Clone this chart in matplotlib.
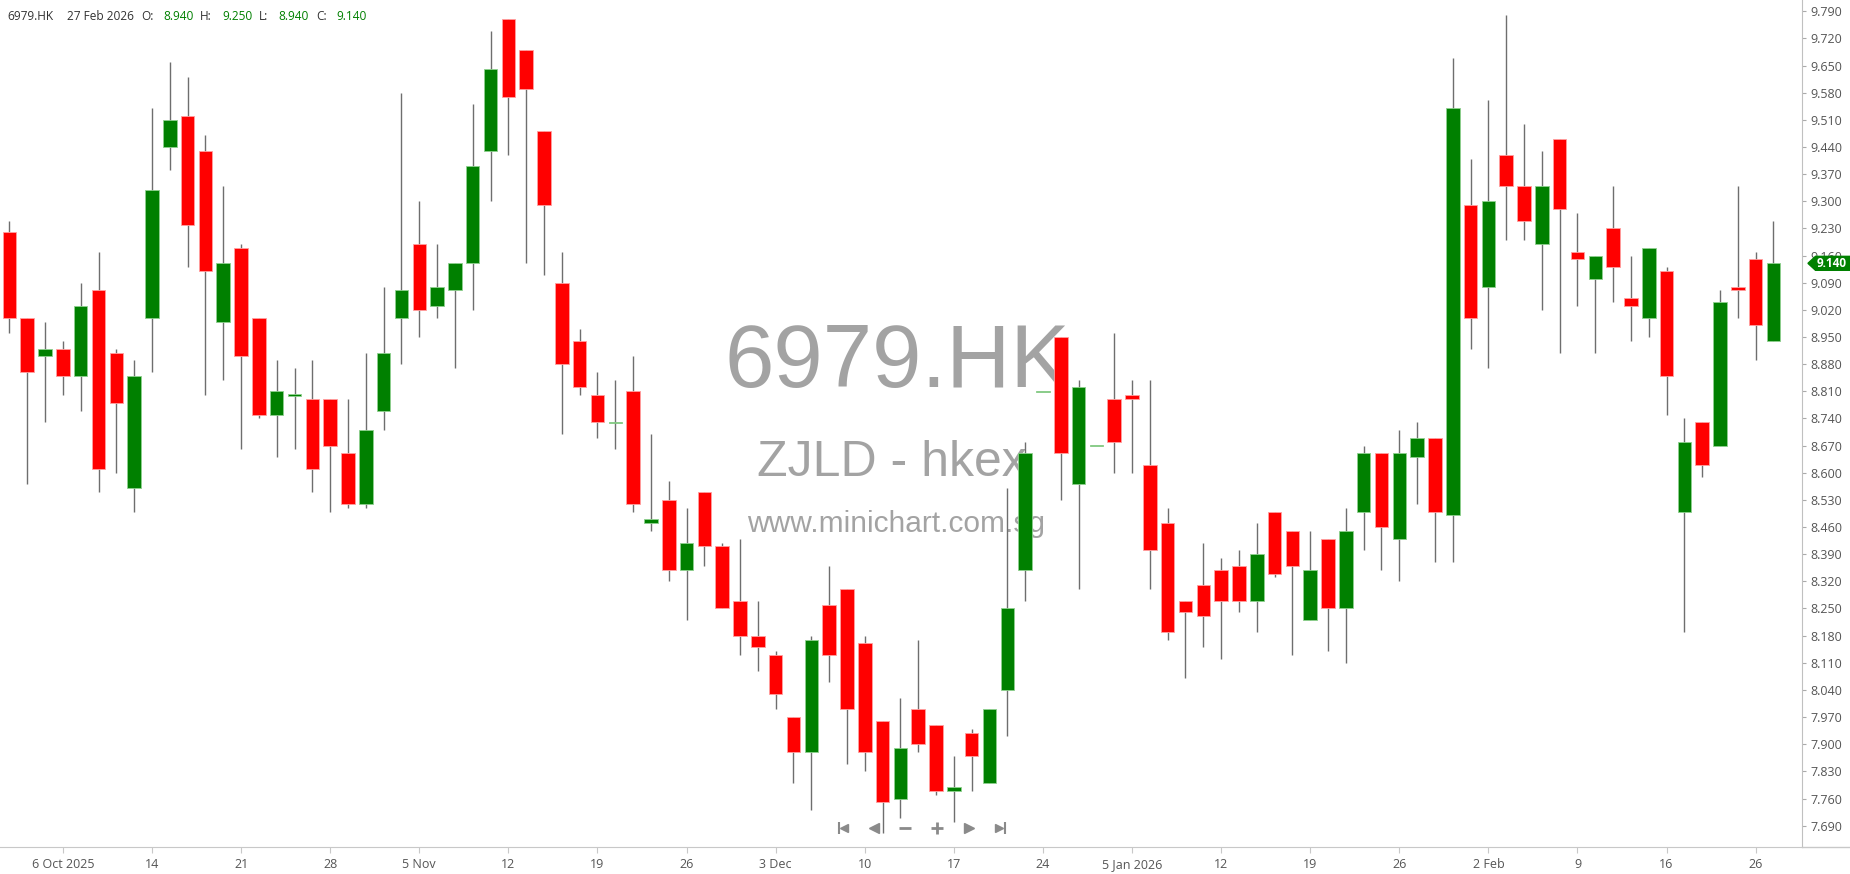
import numpy as np
import matplotlib.pyplot as plt
import matplotlib.transforms as mtransforms
from matplotlib.patches import Polygon
from matplotlib.lines import Line2D
from datetime import datetime

# trading days (HKEX), 30 Sep 2025 - 27 Feb 2026
dates = [
    "2025-09-30",
    "2025-10-02", "2025-10-03", "2025-10-06", "2025-10-08", "2025-10-09", "2025-10-10",
    "2025-10-13", "2025-10-14", "2025-10-15", "2025-10-16", "2025-10-17",
    "2025-10-20", "2025-10-21", "2025-10-22", "2025-10-23", "2025-10-24",
    "2025-10-27", "2025-10-28", "2025-10-30", "2025-10-31",
    "2025-11-03", "2025-11-04", "2025-11-05", "2025-11-06", "2025-11-07",
    "2025-11-10", "2025-11-11", "2025-11-12", "2025-11-13", "2025-11-14",
    "2025-11-17", "2025-11-18", "2025-11-19", "2025-11-20", "2025-11-21",
    "2025-11-24", "2025-11-25", "2025-11-26", "2025-11-27", "2025-11-28",
    "2025-12-01", "2025-12-02", "2025-12-03", "2025-12-04", "2025-12-05",
    "2025-12-08", "2025-12-09", "2025-12-10", "2025-12-11", "2025-12-12",
    "2025-12-15", "2025-12-16", "2025-12-17", "2025-12-18", "2025-12-19",
    "2025-12-22", "2025-12-23", "2025-12-24", "2025-12-29", "2025-12-30", "2025-12-31",
    "2026-01-02", "2026-01-05", "2026-01-06", "2026-01-07", "2026-01-08", "2026-01-09",
    "2026-01-12", "2026-01-13", "2026-01-14", "2026-01-15", "2026-01-16",
    "2026-01-19", "2026-01-20", "2026-01-21", "2026-01-22", "2026-01-23",
    "2026-01-26", "2026-01-27", "2026-01-28", "2026-01-29", "2026-01-30",
    "2026-02-02", "2026-02-03", "2026-02-04", "2026-02-05", "2026-02-06",
    "2026-02-09", "2026-02-10", "2026-02-11", "2026-02-12", "2026-02-13",
    "2026-02-16", "2026-02-20", "2026-02-23", "2026-02-24", "2026-02-25",
    "2026-02-26", "2026-02-27",
]

opens = [9.22, 9.00, 8.90, 8.92, 8.85, 9.07, 8.91, 8.56, 9.00, 9.44,
         9.52, 9.43, 8.99, 9.18, 9.00, 8.75, 8.80, 8.79, 8.79, 8.65,
         8.52, 8.76, 9.00, 9.19, 9.03, 9.07, 9.14, 9.43, 9.77, 9.69,
         9.48, 9.09, 8.94, 8.80, 8.73, 8.81, 8.47, 8.53, 8.35, 8.55,
         8.41, 8.27, 8.18, 8.13, 7.97, 7.88, 8.26, 8.30, 8.16, 7.96,
         7.76, 7.99, 7.95, 7.78, 7.93, 7.80, 8.04, 8.35, 8.81, 8.95,
         8.57, 8.67, 8.79, 8.80, 8.62, 8.47, 8.27, 8.31, 8.35, 8.36,
         8.27, 8.50, 8.45, 8.22, 8.43, 8.25, 8.50, 8.65, 8.43, 8.64,
         8.69, 8.49, 9.29, 9.08, 9.42, 9.34, 9.19, 9.46, 9.17, 9.10,
         9.23, 9.05, 9.00, 9.12, 8.50, 8.73, 8.67, 9.08, 9.15, 8.94]
highs = [9.25, 9.00, 8.99, 8.94, 9.09, 9.17, 8.92, 8.89, 9.54, 9.66,
         9.62, 9.47, 9.34, 9.19, 9.00, 8.89, 8.87, 8.89, 8.79, 8.79,
         8.91, 9.08, 9.58, 9.30, 9.19, 9.14, 9.55, 9.74, 9.77, 9.69,
         9.48, 9.17, 8.97, 8.86, 8.84, 8.90, 8.70, 8.58, 8.51, 8.55,
         8.42, 8.43, 8.27, 8.14, 7.97, 8.18, 8.36, 8.30, 8.18, 7.96,
         8.02, 8.17, 7.95, 7.87, 7.94, 7.99, 8.56, 8.68, 8.81, 8.95,
         8.84, 8.67, 8.96, 8.84, 8.84, 8.51, 8.27, 8.42, 8.38, 8.40,
         8.47, 8.50, 8.45, 8.45, 8.43, 8.51, 8.67, 8.65, 8.71, 8.73,
         8.69, 9.67, 9.41, 9.56, 9.78, 9.50, 9.43, 9.46, 9.27, 9.16,
         9.34, 9.16, 9.18, 9.13, 8.74, 8.73, 9.07, 9.34, 9.17, 9.25]
lows = [8.96, 8.57, 8.73, 8.80, 8.76, 8.55, 8.60, 8.50, 8.86, 9.38,
        9.13, 8.80, 8.84, 8.66, 8.74, 8.64, 8.66, 8.55, 8.50, 8.51,
        8.51, 8.71, 8.88, 8.95, 9.00, 8.87, 9.02, 9.30, 9.42, 9.14,
        9.11, 8.70, 8.80, 8.69, 8.66, 8.50, 8.45, 8.32, 8.22, 8.36,
        8.25, 8.13, 8.09, 7.99, 7.80, 7.73, 8.06, 7.85, 7.83, 7.67,
        7.71, 7.88, 7.77, 7.70, 7.78, 7.80, 7.92, 8.27, 8.81, 8.53,
        8.30, 8.67, 8.60, 8.60, 8.30, 8.17, 8.07, 8.15, 8.12, 8.24,
        8.19, 8.33, 8.13, 8.22, 8.14, 8.11, 8.40, 8.35, 8.32, 8.52,
        8.37, 8.37, 8.92, 8.87, 9.20, 9.20, 9.02, 8.91, 9.03, 8.91,
        9.04, 8.94, 8.95, 8.75, 8.19, 8.59, 8.67, 9.00, 8.89, 8.94]
closes = [9.00, 8.86, 8.92, 8.85, 9.03, 8.61, 8.78, 8.85, 9.33, 9.51,
          9.24, 9.12, 9.14, 8.90, 8.75, 8.81, 8.80, 8.61, 8.67, 8.52,
          8.71, 8.91, 9.07, 9.02, 9.08, 9.14, 9.39, 9.64, 9.57, 9.59,
          9.29, 8.88, 8.82, 8.73, 8.73, 8.52, 8.48, 8.35, 8.42, 8.41,
          8.25, 8.18, 8.15, 8.03, 7.88, 8.17, 8.13, 7.99, 7.88, 7.75,
          7.89, 7.90, 7.78, 7.79, 7.87, 7.99, 8.25, 8.65, 8.81, 8.65,
          8.82, 8.67, 8.68, 8.79, 8.40, 8.19, 8.24, 8.23, 8.27, 8.27,
          8.39, 8.34, 8.36, 8.35, 8.25, 8.45, 8.65, 8.46, 8.65, 8.69,
          8.50, 9.54, 9.00, 9.30, 9.34, 9.25, 9.34, 9.28, 9.15, 9.16,
          9.13, 9.03, 9.18, 8.85, 8.68, 8.62, 9.04, 9.07, 8.98, 9.14]

tick_dates = ["2025-10-06", "2025-10-14", "2025-10-21", "2025-10-28", "2025-11-05",
              "2025-11-12", "2025-11-19", "2025-11-26", "2025-12-03", "2025-12-10",
              "2025-12-17", "2025-12-24", "2026-01-05", "2026-01-12", "2026-01-19",
              "2026-01-26", "2026-02-02", "2026-02-09", "2026-02-16", "2026-02-26"]
tick_labels = ["6 Oct 2025", "14", "21", "28", "5 Nov", "12", "19", "26", "3 Dec", "10",
               "17", "24", "5 Jan 2026", "12", "19", "26", "2 Feb", "9", "16", "26"]

y_ticks = [7.69, 7.76, 7.83, 7.90, 7.97, 8.04, 8.11, 8.18, 8.25, 8.32, 8.39,
           8.46, 8.53, 8.60, 8.67, 8.74, 8.81, 8.88, 8.95, 9.02, 9.09, 9.16,
           9.23, 9.30, 9.37, 9.44, 9.51, 9.58, 9.65, 9.72, 9.79]

ticker = "6979.HK"
name_line = "ZJLD - hkex"
site = "www.minichart.com.sg"

GREEN = "#008000"
RED = "#ff0000"
UI_FONT = ["Open Sans", "DejaVu Sans"]

o = np.array(opens)
h = np.array(highs)
l = np.array(lows)
c = np.array(closes)
x = np.arange(len(dates))
up = c >= o

W, H = 1850, 874
fig = plt.figure(figsize=(W / 100, H / 100), dpi=100)
ax = fig.add_axes([0, 1 - 847 / H, 1802 / W, 847 / H])

# wicks then bodies
ax.vlines(x, l, h, color="#6e6e6e", linewidth=1.0, zorder=2)
body_lo = np.minimum(o, c)
body_h = np.abs(c - o)
body_h = np.where(body_h < 0.004, 0.004, body_h)
body_lo = np.where(np.abs(c - o) < 0.004, body_lo - 0.002, body_lo)
ax.bar(x, body_h, bottom=body_lo, width=0.76,
       color=np.where(up, GREEN, RED),
       edgecolor=np.where(up, "#8fd08f", "#ffa0a0"),
       linewidth=0.6, zorder=3)

ax.set_xlim(-0.53, 100.6)
ax.set_ylim(7.635, 9.819)

# watermark
ax.text(0.498, 0.57, ticker, transform=ax.transAxes, ha="center", va="center",
        fontsize=64, color="#a3a3a3", family="Liberation Sans", zorder=1)
ax.text(0.495, 0.453, name_line, transform=ax.transAxes, ha="center", va="center",
        fontsize=36, color="#a3a3a3", family="Liberation Sans", zorder=1)
ax.text(0.497, 0.381, site, transform=ax.transAxes, ha="center", va="center",
        fontsize=21.5, color="#a3a3a3", family="Liberation Sans", zorder=1)

# axes styling
ax.yaxis.tick_right()
ax.set_yticks(y_ticks)
ax.set_yticklabels([f"{v:.3f}" for v in y_ticks])
ax.tick_params(axis="y", length=3, width=0.8, color="#aaaaaa", labelcolor="#555555",
               labelsize=9, pad=3)
ax.set_xticks([dates.index(d) for d in tick_dates])
ax.set_xticklabels(tick_labels)
ax.tick_params(axis="x", length=4, width=0.8, color="#c8c8c8", labelcolor="#555555",
               labelsize=9, pad=4)
for lab in ax.get_xticklabels() + ax.get_yticklabels():
    lab.set_family(UI_FONT)
for s in ["left", "top"]:
    ax.spines[s].set_visible(False)
ax.spines["right"].set_color("#c0c0c0")
ax.spines["bottom"].set_color("#c8c8c8")
fig.add_artist(Line2D([1802 / W, 1], [1 - 847 / H] * 2, color="#c8c8c8", lw=1.0))

# last price tag
blend = mtransforms.blended_transform_factory(ax.transAxes, ax.transData)
last = closes[-1]
hh = 0.018
tag = Polygon([(1.0033, last), (1.0075, last + hh), (1.03, last + hh),
               (1.03, last - hh), (1.0075, last - hh)],
              closed=True, transform=blend, facecolor=GREEN, edgecolor=GREEN,
              clip_on=False, zorder=10)
ax.add_patch(tag)
ax.text(1.0165, last, f"{last:.3f}", transform=blend, ha="center", va="center",
        color="white", fontsize=8.5, fontweight="bold", family=UI_FONT,
        clip_on=False, zorder=11)

# navigation buttons at bottom
nav_y = 0.0224
gray = "#8a8a8a"
ax.plot([0.4655], [nav_y], marker="|", ms=8, mew=1.5, color=gray, transform=ax.transAxes)
ax.plot([0.4685], [nav_y], marker="<", ms=6, color=gray, mec=gray, transform=ax.transAxes)
ax.plot([0.485], [nav_y], marker="<", ms=7, color=gray, mec=gray, transform=ax.transAxes)
ax.plot([0.5022], [nav_y], marker="_", ms=9, mew=2, color=gray, transform=ax.transAxes)
ax.plot([0.52], [nav_y], marker="+", ms=9, mew=2, color=gray, transform=ax.transAxes)
ax.plot([0.5377], [nav_y], marker=">", ms=7, color=gray, mec=gray, transform=ax.transAxes)
ax.plot([0.5545], [nav_y], marker=">", ms=6, color=gray, mec=gray, transform=ax.transAxes)
ax.plot([0.5575], [nav_y], marker="|", ms=8, mew=1.5, color=gray, transform=ax.transAxes)

# header line
last_day = datetime.strptime(dates[-1], "%Y-%m-%d").strftime("%-d %b %Y")
hy = 1 - 17 / H
header = [(7, ticker, "#333333"), (67, last_day, "#333333"),
          (141, "O:", "#333333"), (163, f"{opens[-1]:.3f}", GREEN),
          (200, "H:", "#333333"), (222, f"{highs[-1]:.3f}", GREEN),
          (259, "L:", "#333333"), (278, f"{lows[-1]:.3f}", GREEN),
          (316, "C:", "#333333"), (336, f"{closes[-1]:.3f}", GREEN)]
for px, txt, col in header:
    fig.text(px / W, hy, txt, ha="left", va="center", fontsize=8.6, color=col,
             family=UI_FONT)

fig.savefig("out.png", dpi=100, facecolor="white")
